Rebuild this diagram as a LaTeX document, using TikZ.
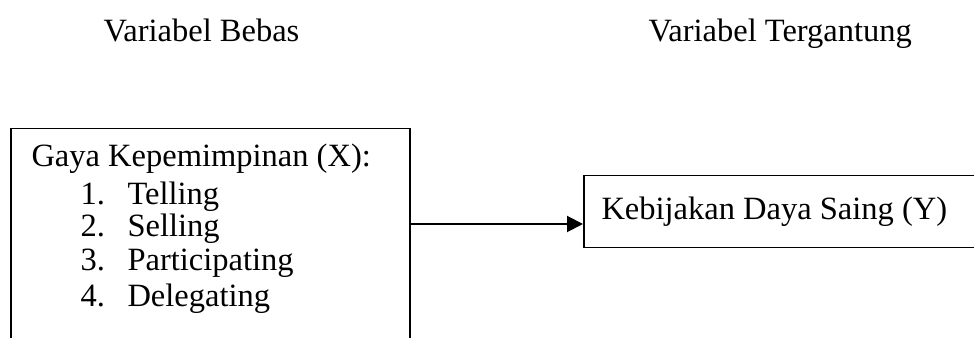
\documentclass[tikz,border=0pt]{standalone}
\usepackage{fontspec}
\setmainfont{Liberation Serif}
\usetikzlibrary{arrows.meta}
\begin{document}
\begin{tikzpicture}[x=0.4pt,y=-0.4pt,
  box/.style={draw, line width=0.6pt, inner sep=0pt, anchor=north west},
  txt/.style={inner sep=0pt, anchor=base west, font=\fontsize{13}{15}\selectfont},
  arr/.style={line width=0.8pt, -{Triangle[length=6.4pt,width=6.4pt]}}]
\useasboundingbox (0,0) rectangle (974,338);
\clip (0,0) rectangle (974,338);
\fill[white] (0,0) rectangle (974,338);
% headings
\node[txt] (hb) at (103,42) {Variabel Bebas};
\node[txt] (ht) at (648,42) {Variabel Tergantung};
% left box
\node[box, minimum width=399*0.4pt, minimum height=260*0.4pt] (lb) at (10,128) {};
\node[txt] (g) at (31,167) {Gaya Kepemimpinan (X):};
\node[txt] (n1) at (80,205) {1.};
\node[txt] (t1) at (127,205) {Telling};
\node[txt] (n2) at (80,237) {2.};
\node[txt] (t2) at (127,237) {Selling};
\node[txt] (n3) at (80,271) {3.};
\node[txt] (t3) at (127,271) {Participating};
\node[txt] (n4) at (80,307) {4.};
\node[txt] (t4) at (127,307) {Delegating};
% right box
\node[box, minimum width=420*0.4pt, minimum height=72*0.4pt] (rb) at (583,175) {};
\node[txt] (k) at (601,220) {Kebijakan Daya Saing (Y)};
% arrow
\coordinate (as) at (409,224);
\coordinate (ae) at (583,224);
\draw[arr] (as) -- (ae);
\end{tikzpicture}
\end{document}
